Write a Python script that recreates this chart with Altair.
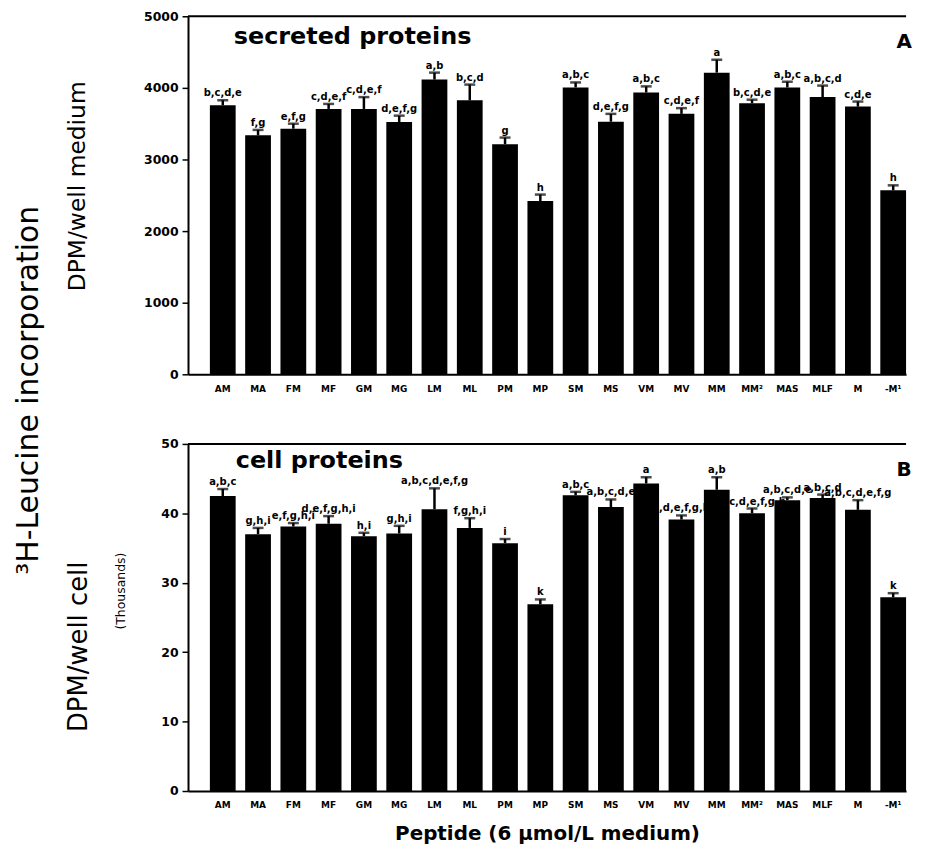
import altair as alt
import pandas as pd

cats = ["AM", "MA", "FM", "MF", "GM", "MG", "LM", "ML", "PM", "MP",
        "SM", "MS", "VM", "MV", "MM", "MM²", "MAS", "MLF", "M", "-M¹"]

sec_mean = [3757, 3338, 3430, 3706, 3706, 3522, 4116, 3826, 3214, 2420,
            4006, 3527, 3936, 3637, 4213, 3785, 4006, 3872, 3739, 2569]
sec_err = [70, 75, 70, 70, 165, 90, 97, 220, 92, 90,
           70, 110, 85, 80, 180, 50, 80, 160, 70, 70]
sec_lab = ["b,c,d,e", "f,g", "e,f,g", "c,d,e,f", "c,d,e,f", "d,e,f,g", "a,b", "b,c,d", "g", "h",
           "a,b,c", "d,e,f,g", "a,b,c", "c,d,e,f", "a", "b,c,d,e", "a,b,c", "a,b,c,d", "c,d,e", "h"]

cell_mean = [42.5, 37.0, 38.1, 38.5, 36.7, 37.1, 40.6, 37.9, 35.7, 26.9,
             42.6, 40.9, 44.3, 39.1, 43.4, 40.0, 41.9, 42.2, 40.5, 27.9]
cell_err = [1.0, 0.9, 0.5, 1.1, 0.5, 1.1, 3.0, 1.4, 0.6, 0.7,
            0.5, 1.1, 0.9, 0.6, 1.8, 0.7, 0.4, 0.5, 1.4, 0.6]
cell_lab = ["a,b,c", "g,h,i", "e,f,g,h,i", "d,e,f,g,h,i", "h,i", "g,h,i", "a,b,c,d,e,f,g", "f,g,h,i", "i", "k",
            "a,b,c", "a,b,c,d,e", "a", "c,d,e,f,g,h", "a,b", "b,c,d,e,f,g,h", "a,b,c,d,e", "a,b,c,d", "a,b,c,d,e,f,g", "k"]

sec_ticks = [0, 1000, 2000, 3000, 4000, 5000]
cell_ticks = [0, 10, 20, 30, 40, 50]

BOLD = "DejaVu Sans"
W = 722


def panel(mean, err, lab, ymax, yvals, h, ptitle, letter, xtitle, extra_texts):
    df = pd.DataFrame({"pep": cats, "val": mean,
                       "hi": [m + e for m, e in zip(mean, err)], "lab": lab})
    xaxis = alt.Axis(title=xtitle if xtitle else "", labelAngle=0, ticks=False,
                     domainWidth=2, domainColor="black",
                     labelFont=BOLD, labelFontWeight="bold", labelFontSize=9,
                     labelPadding=10, labelColor="black",
                     titleFont=BOLD, titleFontWeight="bold", titleFontSize=20,
                     titleColor="black", titlePadding=14)
    x = alt.X("pep:N", sort=cats,
              scale=alt.Scale(paddingInner=0.27, paddingOuter=0.31, align=1),
              axis=xaxis)
    y = alt.Y("val:Q", scale=alt.Scale(domain=[0, ymax], nice=False),
              axis=alt.Axis(values=yvals, title=None, grid=False, tickSize=6,
                            tickWidth=1.5, tickColor="black", domainWidth=2,
                            domainColor="black", labelFont=BOLD,
                            labelFontWeight="bold", labelFontSize=12.5,
                            labelPadding=4, labelColor="black", format="d"))
    base = alt.Chart(df)
    bars = base.mark_bar(color="black").encode(x=x, y=y)
    rule = base.mark_rule(color="black", strokeWidth=2.5).encode(
        x=x, y=alt.Y("val:Q"), y2="hi:Q")
    cap = base.mark_tick(color="black", size=11, thickness=2.5).encode(
        x=x, y=alt.Y("hi:Q"))
    txt = base.mark_text(font=BOLD, fontWeight="bold", fontSize=10,
                         baseline="alphabetic", dy=-4, color="black").encode(
        x=x, y=alt.Y("hi:Q"), text="lab:N")
    one = alt.Chart(pd.DataFrame({"k": [0]}))
    topline = one.mark_rule(color="black", strokeWidth=2).encode(y=alt.value(0))
    tt = one.mark_text(text=ptitle[0], font=BOLD, fontWeight="bold", fontSize=24,
                       align="left", baseline="alphabetic", color="black").encode(
        x=alt.value(ptitle[1]), y=alt.value(ptitle[2]))
    lt = one.mark_text(text=letter[0], font=BOLD, fontWeight="bold", fontSize=20,
                       align="center", baseline="middle", color="black").encode(
        x=alt.value(letter[1]), y=alt.value(letter[2]))
    layers = [bars, rule, cap, txt, topline, tt, lt]
    for (t, xx, yy, fs) in extra_texts:
        layers.append(one.mark_text(text=t, font="DejaVu Sans", fontSize=fs,
                                    angle=270, align="center", baseline="middle",
                                    color="black").encode(
            x=alt.value(xx), y=alt.value(yy)))
    return alt.layer(*layers).properties(width=W, height=h)


top = panel(sec_mean, sec_err, sec_lab, 5000, sec_ticks, 360,
            ("secreted proteins", 46, 28), ("A", 720, 26), None,
            [("DPM/well medium", -111, 171, 23.5),
             ("³H-Leucine incorporation", -160, 376, 30)])
bottom = panel(cell_mean, cell_err, cell_lab, 50, cell_ticks, 349,
               ("cell proteins", 48, 24), ("B", 720, 26), "Peptide (6 µmol/L medium)",
               [("DPM/well cell", -110, 204, 26),
                ("(Thousands)", -67, 148, 12.5)])

chart = alt.vconcat(top, bottom, spacing=70, bounds="flush").properties(
    padding={"left": 6, "top": 0, "right": 5, "bottom": 5}
).configure(background="white").configure_view(stroke=None)

chart.save("out.html", embed_options={"renderer": "svg", "actions": False})
